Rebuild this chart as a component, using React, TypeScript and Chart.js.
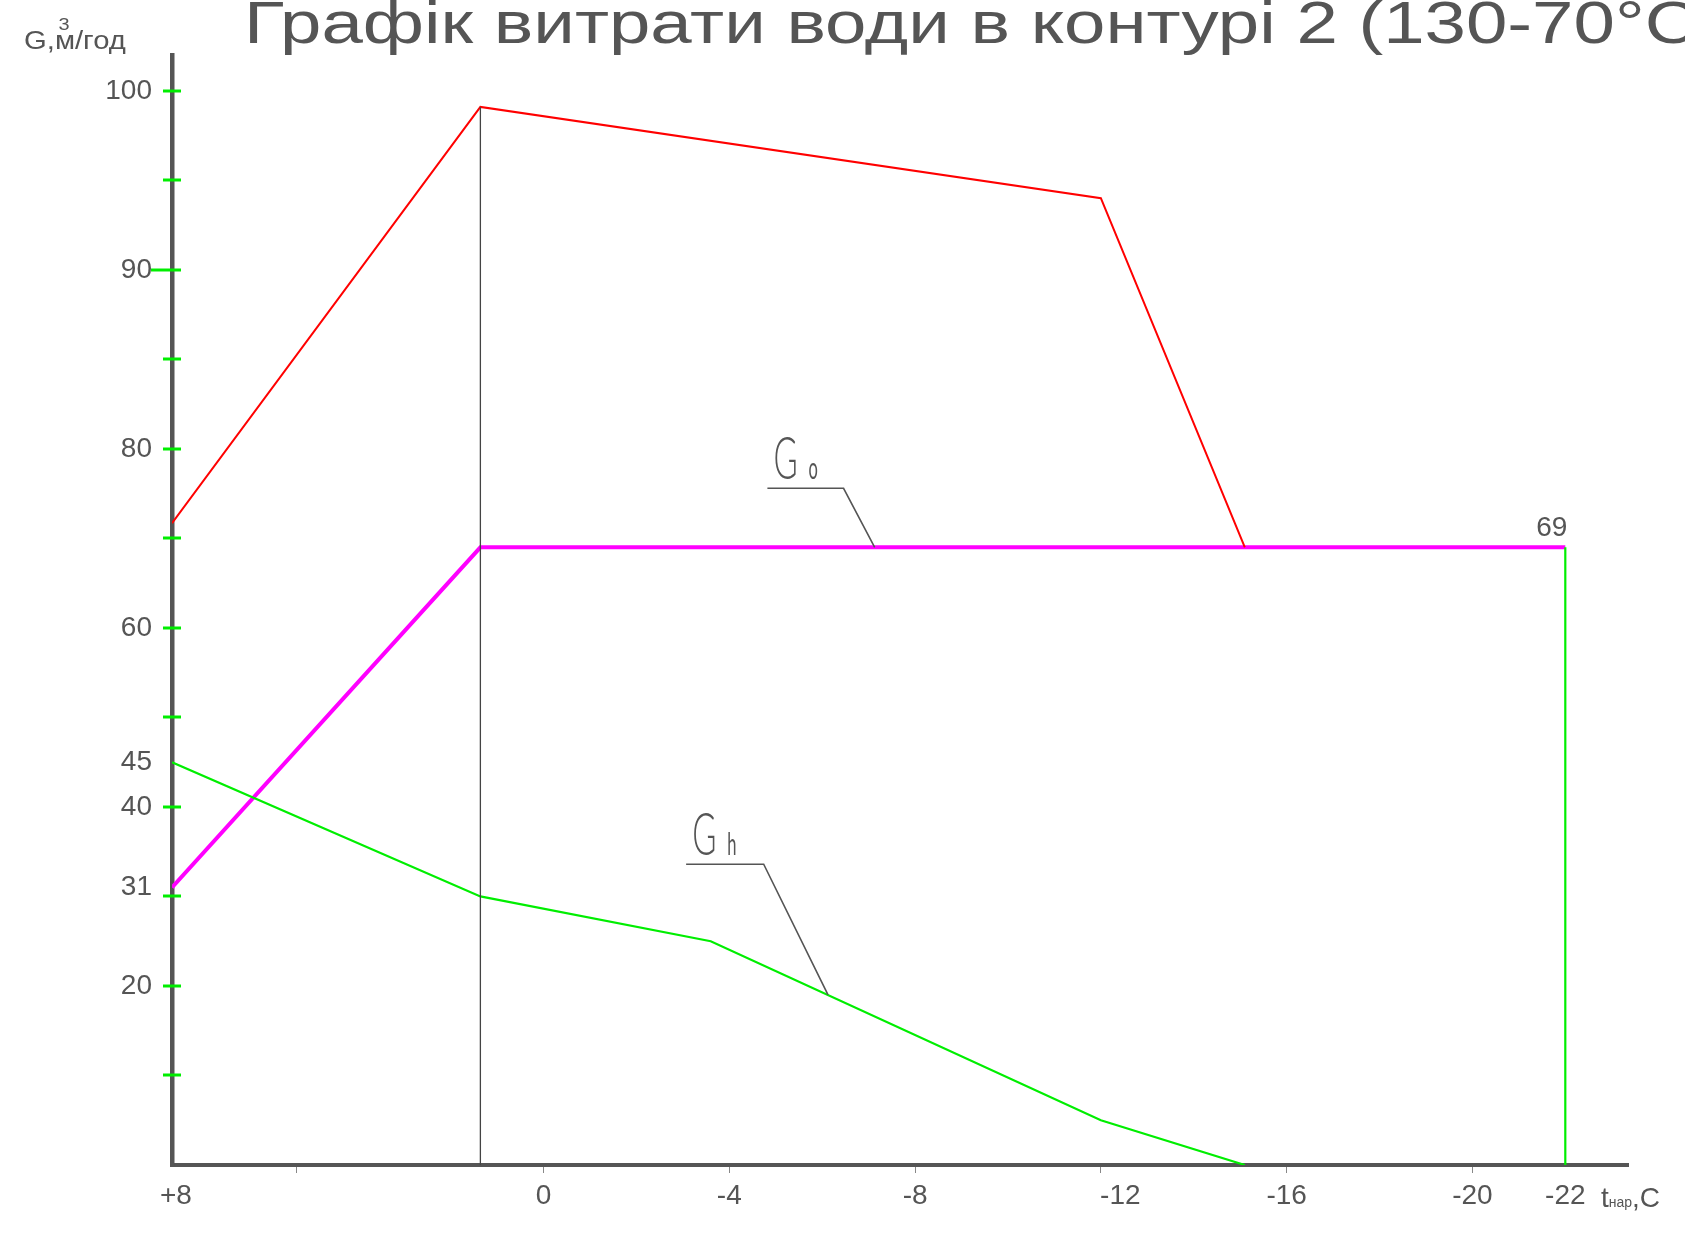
import React, { useEffect, useRef } from "react";
import { Chart, LinearScale, registerables } from "chart.js";

Chart.register(...registerables);

// ---- data -------------------------------------------------------------
// outdoor temperature (°C) of the heating break point
const breakT = 1.36;

// total flow, m³/h
const totalT = [8, breakT, -12, -15.1];
const totalG = [71.7, 99.1, 94, 69];

// heating flow Go, m³/h
const heatT = [8, breakT, -22];
const heatG = [31, 69, 69];

// hot-water flow Gh, m³/h
const dhwT = [8, breakT, -3.6, -12, -15.1];
const dhwG = [45, 30, 25, 5, 0];

// axis ticks
const xTickValues = [8, 5.33, 0, -4, -8, -12, -16, -20, -22];
const xTickLabels = [" +8", "", "0", "-4", "-8", "     -12", "-16", "-20", "-22"];
const xMarkValues = [5.33, 0, -4, -8, -12, -16, -20];

const yTickValues = [10, 20, 30, 31, 40, 45, 50, 60, 70, 80, 85, 90, 95, 100];
const yTickLabels = ["", "20", "", "31", "40", "45", "", "60", "", "80", "", "90", "", "100"];
const yMarkValues = [10, 20, 30, 40, 50, 60, 70, 80, 85, 90, 95, 100];

const titleText = "Графік витрати води в контурі 2 (130-70°С)";
const yTitleText = "G,м/год";

// ---- styling ----------------------------------------------------------
const FONT = '"Liberation Sans", Arial, sans-serif';
const CAD_FONT = 'Lato, "Liberation Sans", sans-serif';
const INK = "#555555";
const RED = "#ff0000";
const MAGENTA = "#ff00ff";
const GREEN = "#00ee00";

// ---- value axis with a doubled scale above 80 ---------------------------
const Y_BREAK = 80;
const Y_STRETCH = 2;
const toUnits = (v: number) => (v <= Y_BREAK ? v : Y_BREAK + (v - Y_BREAK) * Y_STRETCH);
const fromUnits = (u: number) => (u <= Y_BREAK ? u : Y_BREAK + (u - Y_BREAK) / Y_STRETCH);

class SplitLinearScale extends LinearScale {
  static id = "splitLinear";
  static defaults = LinearScale.defaults;

  getPixelForValue(value: number) {
    if (value === null || value === undefined || isNaN(value)) return NaN;
    const lo = toUnits(this.min);
    const hi = toUnits(this.max);
    return this.getPixelForDecimal((toUnits(value) - lo) / (hi - lo));
  }

  getValueForPixel(pixel: number) {
    const lo = toUnits(this.min);
    const hi = toUnits(this.max);
    return fromUnits(lo + this.getDecimalForPixel(pixel) * (hi - lo));
  }
}
Chart.register(SplitLinearScale);

const toPoints = (xs: number[], ys: number[]) => xs.map((t, i) => ({ x: t, y: ys[i] }));

// leader callouts naming the curves
const callouts = [
  { main: "G", sub: "o", start: -4.82, elbow: [-6.46, 75.6], anchor: [-7.13, 69] },
  { main: "G", sub: "h", start: -3.07, elbow: [-4.74, 33.6], anchor: [-6.125, 19] },
];

const decorPlugin = {
  id: "decor",
  beforeDatasetsDraw(chart: any) {
    const { ctx, chartArea, scales } = chart;
    const y = scales.y;
    const axisX = chartArea.left;
    ctx.save();
    ctx.strokeStyle = GREEN;
    ctx.lineWidth = 3;
    for (const v of yMarkValues) {
      const py = Math.round(y.getPixelForValue(v));
      const left = v === 90 ? axisX - 21 : axisX - 9;
      ctx.beginPath();
      ctx.moveTo(left, py);
      ctx.lineTo(axisX + 9, py);
      ctx.stroke();
    }
    ctx.restore();
  },
  afterDatasetsDraw(chart: any) {
    const { ctx, scales } = chart;
    const { x, y } = scales;
    ctx.save();

    for (const c of callouts) {
      const sx = x.getPixelForValue(c.start);
      const ex = x.getPixelForValue(c.elbow[0]);
      const ey = y.getPixelForValue(c.elbow[1]);
      const ax = x.getPixelForValue(c.anchor[0]);
      const ay = y.getPixelForValue(c.anchor[1]);
      ctx.strokeStyle = INK;
      ctx.lineWidth = 1.6;
      ctx.beginPath();
      ctx.moveTo(sx, ey);
      ctx.lineTo(ex, ey);
      ctx.lineTo(ax, ay);
      ctx.stroke();

      ctx.fillStyle = INK;
      ctx.textAlign = "left";
      ctx.textBaseline = "alphabetic";
      ctx.save();
      ctx.translate(sx + 6, ey - 9);
      ctx.scale(0.55, 1);
      ctx.font = `300 60px ${CAD_FONT}`;
      ctx.fillText(c.main, 0, 0);
      ctx.restore();
      ctx.save();
      ctx.translate(sx + 41, ey - 9);
      ctx.scale(0.55, 1);
      ctx.font = `400 30px ${CAD_FONT}`;
      ctx.fillText(c.sub, 0, 0);
      ctx.restore();
    }

    // value caption at the end of the Go line
    const last = heatT.length - 1;
    const px = x.getPixelForValue(heatT[last]);
    const py = y.getPixelForValue(heatG[last]);
    ctx.fillStyle = INK;
    ctx.font = `28px ${FONT}`;
    ctx.textAlign = "right";
    ctx.textBaseline = "alphabetic";
    ctx.fillText(String(heatG[last]), px + 2, py - 11);
    ctx.restore();
  },
  afterDraw(chart: any) {
    const { ctx } = chart;
    ctx.save();
    ctx.fillStyle = INK;
    ctx.textAlign = "left";
    ctx.textBaseline = "alphabetic";

    // title, wide lettering
    ctx.save();
    ctx.translate(244, 43);
    ctx.scale(1.24, 1);
    ctx.font = `60px ${FONT}`;
    ctx.fillText(titleText, 0, 0);
    ctx.restore();

    // value-axis caption with the cubic-metre exponent
    ctx.save();
    ctx.translate(24, 49);
    ctx.scale(1.17, 1);
    ctx.font = `25px ${FONT}`;
    ctx.fillText(yTitleText, 0, 0);
    const w = ctx.measureText("G,").width;
    ctx.font = `17px ${FONT}`;
    ctx.fillText("3", w + 3, -19);
    ctx.restore();

    // temperature-axis caption
    let cx = 1601;
    const base = 1207;
    ctx.font = `28px ${FONT}`;
    ctx.fillText("t", cx, base);
    cx += ctx.measureText("t").width;
    ctx.font = `14px ${FONT}`;
    ctx.fillText("нар", cx, base);
    cx += ctx.measureText("нар").width;
    ctx.font = `28px ${FONT}`;
    ctx.fillText(",С", cx, base);
    ctx.restore();
  },
};

export default function App() {
  const canvasRef = useRef<HTMLCanvasElement>(null);

  useEffect(() => {
    const canvas = canvasRef.current;
    if (!canvas) return;

    const line = (data: any[], color: string, width: number) => ({
      type: "line" as const,
      data,
      borderColor: color,
      backgroundColor: color,
      borderWidth: width,
      pointRadius: 0,
      fill: false,
      tension: 0,
    });

    const chart = new Chart(canvas, {
      type: "line",
      data: {
        datasets: [
          // break-point marker from the axis up to the peak of the total flow
          line(
            [
              { x: totalT[1], y: 0 },
              { x: totalT[1], y: totalG[1] },
            ],
            "#444444",
            1.3
          ),
          line(toPoints(dhwT, dhwG), GREEN, 2.2),
          // design-point drop line at the coldest temperature
          line(
            [
              { x: heatT[heatT.length - 1], y: 0 },
              { x: heatT[heatT.length - 1], y: heatG[heatG.length - 1] },
            ],
            GREEN,
            2.2
          ),
          line(toPoints(totalT, totalG), RED, 2),
          line(toPoints(heatT, heatG), MAGENTA, 4),
        ],
      },
      options: {
        animation: false,
        responsive: false,
        devicePixelRatio: 1,
        layout: { padding: { top: 55, right: 57, bottom: 0, left: 0 } },
        plugins: {
          legend: { display: false },
          title: { display: false },
          tooltip: { enabled: false },
        },
        scales: {
          x: {
            type: "linear",
            reverse: true,
            min: -23.35,
            max: 8,
            afterBuildTicks: (s: any) => {
              s.ticks = xTickValues.map((v) => ({ value: v }));
            },
            afterFit: (s: any) => {
              s.height = 70;
            },
            grid: {
              display: true,
              drawOnChartArea: false,
              drawTicks: true,
              tickLength: 8,
              tickWidth: 1,
              tickColor: (c: any) =>
                c.tick && xMarkValues.includes(c.tick.value) ? "#888888" : "rgba(0,0,0,0)",
            },
            border: { display: true, color: INK, width: 4 },
            ticks: {
              autoSkip: false,
              maxRotation: 0,
              padding: 6,
              color: INK,
              font: { family: FONT, size: 28 },
              callback: (_v: any, i: number) => xTickLabels[i],
            },
          },
          y: {
            type: "splitLinear" as any,
            min: 0,
            max: 102,
            afterBuildTicks: (s: any) => {
              s.ticks = yTickValues.map((v) => ({ value: v }));
            },
            afterFit: (s: any) => {
              s.width = 172;
            },
            grid: { display: false, drawTicks: false },
            border: { display: true, color: INK, width: 4.5 },
            ticks: {
              autoSkip: false,
              padding: 20,
              color: INK,
              font: { family: FONT, size: 28 },
              callback: (_v: any, i: number) => yTickLabels[i],
            },
          },
        },
      } as any,
      plugins: [decorPlugin],
    });

    return () => chart.destroy();
  }, []);

  return (
    <div
      style={{
        position: "absolute",
        left: 0,
        top: 0,
        width: 1685,
        height: 1235,
        background: "#ffffff",
        overflow: "hidden",
      }}
    >
      <canvas ref={canvasRef} width={1685} height={1235} style={{ display: "block" }} />
    </div>
  );
}
